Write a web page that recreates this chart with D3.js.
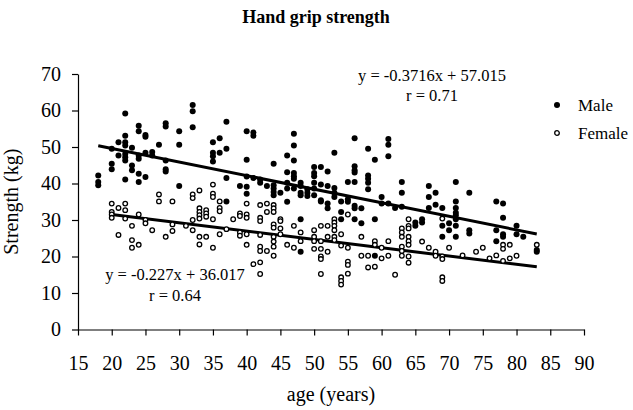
<!DOCTYPE html>
<html>
<head>
<meta charset="utf-8">
<script src="https://cdn.jsdelivr.net/npm/d3@7"></script>
<style>
  body { margin: 0; background: #fff; }
  text { font-family: "Liberation Serif", "Times New Roman", serif; fill: #000; }
  .axis text { font-size: 20px; }
  .axis path, .axis line { stroke: #000; stroke-width: 1.2; }
</style>
</head>
<body>
<div id="chart"></div>
<script>
// [age (years), grip strength (kg)]
var maleData = [
  [22,59.2],[24,55.8],[24,54.3],[25,53.3],[25,52.8],[28,56.5],[28,55.6],[30,54.3],
  [32,61.5],[32,59.8],[32,55.4],[30,50.6],[27,50.6],[22,53.1],[21,51.3],[22,51.3],
  [22,50.4],[23,49.8],[20,49.5],[21,47.7],[22,48.1],[22,47.2],[22,46.3],[23,44.9],
  [23,43.6],[24,47.7],[24,46.8],[25,48.4],[26,48.6],[26,47.7],[28,46.3],[28,43.9],
  [28,43.3],[20,45.4],[20,43.9],[18,42.2],[18,40.4],[18,39.5],[24,42.7],[24,40.4],
  [25,41.8],[22,41.1],[30,39.3],
  [37,56.9],[40,54.3],[41,54.0],[41,53.1],[35,51.3],[36,52.4],[37,49.5],[35,48.4],
  [35,47.5],[35,46.0],[36,48.4],[40,46.5],[44,45.4],[46,47.7],[47,53.6],[47,50.4],
  [47,46.3],[46,43.1],[47,42.9],[47,42.0],[47,41.3],[50,44.5],[51,44.5],[52,43.3],
  [50,42.9],[50,42.0],[37,41.5],[40,41.9],[41,41.5],[42,41.1],[42,40.2],[39,39.3],
  [40,39.1],[40,37.2],[44,39.5],[44,38.6],[44,37.7],[44,36.8],[45,37.5],[43,39.3],
  [46,40.2],[46,38.6],[47,38.6],[48,40.2],[48,39.3],[48,37.5],[48,36.8],[49,38.4],
  [49,37.5],[49,36.6],[50,40.2],[50,38.6],[50,36.8],[51,39.7],[52,39.3],[51,35.4],
  [52,34.5],[46,35.0],
  [56,52.4],[61,52.2],[61,50.6],[61,47.5],[58,49.5],[59,46.5],[53,48.4],
  [56,44.7],[56,43.6],[56,43.0],[58,42.2],[58,41.3],[58,40.2],[58,38.4],[55,40.4],
  [56,40.4],[63,40.4],[63,37.5],[67,39.3],[67,36.3],[68,37.5],[67,33.3],[53,38.8],
  [53,37.5],[53,36.3],[54,35.1],[55,35.7],[55,35.0],[56,33.9],[56,33.2],[57,33.2],
  [60,36.3],[60,34.5],[61,34.5],[62,33.3],[63,33.6],[68,34.2],
  [71,40.4],[73,37.5],[71,35.1],[71,33.3],[71,32.0],[69,33.3],[77,35.1],[78,34.5],
  [71,31.3],[71,30.2],[69,28.4],[70,29.1],[70,27.2],[69,25.4],[71,28.4],[71,25.4],
  [73,27.2],[73,26.3],[78,30.6],[77,27.2],[77,24.2],[78,26.1],[78,25.4],[80,28.4],
  [80,26.1],[81,25.4],[83,21.8],[83,21.3],
  [37,35.1],[48,30.2],[48,21.3],[51,35.1],[52,33.2],[54,32.2],[54,30.2],[56,30.2],
  [57,29.1],[59,30.2],[65,29.3],[65,28.4],[66,30.2],[66,29.3],[59,20.2]
];

var femaleData = [
  [20,34.5],[21,33.3],[22,34.5],[22,32.7],[20,32.2],[20,31.5],[20,30.6],[22,30.4],
  [24,31.5],[25,30.0],[25,29.1],[23,28.4],[26,27.2],[21,25.9],[23,24.5],[23,22.4],
  [24,23.2],[27,37.0],[27,35.1],[29,35.1],[29,28.8],[29,27.0],[28,25.4],[31,28.4],
  [32,37.0],[32,36.0],[32,30.0],[32,27.2],[33,33.2],[33,32.2],[33,31.3],[33,30.4],
  [34,32.7],[34,31.8],[34,30.9],[33,25.4],[33,23.3],[34,25.4],[33,38.1],
  [35,39.7],[35,37.2],[35,36.3],[36,35.1],[36,33.3],[36,32.4],[40,34.5],[39,31.8],
  [35,30.2],[38,30.2],[39,31.1],[40,31.5],[40,30.6],[42,34.1],[43,34.5],[43,32.2],
  [44,34.1],[44,33.2],[44,32.2],[42,30.6],[42,29.7],[45,30.2],[45,29.7],[44,28.8],
  [44,27.9],[47,28.4],[45,27.7],[35,22.4],[36,26.1],[37,27.5],[39,26.6],[39,25.7],
  [40,26.1],[40,23.2],[42,25.9],[42,22.7],[42,21.5],[43,21.5],[44,25.4],[44,24.1],
  [44,22.7],[44,20.2],[45,26.1],[46,23.2],[47,22.4],[48,24.2],[48,26.6],[41,17.9],
  [42,18.4],[42,15.2],[50,27.2],[50,25.4],[50,24.2],[50,22.1],[51,24.2],[51,22.1],
  [51,20.0],[51,19.3],[51,15.2],[52,28.4],[52,25.4],[52,21.3],
  [51,28.4],[53,30.2],[53,29.3],[53,28.4],[53,27.2],[55,31.5],[53,25.4],[53,24.5],
  [54,26.1],[54,23.0],[55,22.4],[57,25.4],[59,24.2],[59,23.2],[60,22.4],[61,24.2],
  [57,20.2],[58,20.2],[60,19.5],[61,20.2],[63,27.7],[63,26.6],[63,25.4],[64,30.2],
  [64,28.4],[64,27.7],[64,25.4],[64,24.2],[64,23.2],[63,22.7],[63,21.5],[63,20.2],
  [64,20.0],[64,18.3],[66,24.1],[67,22.4],[68,21.3],[68,20.2],[69,30.4],[70,22.4],
  [55,18.6],[55,17.7],[55,15.3],[54,14.3],[54,13.3],[54,12.3],[58,17.0],[59,17.2],
  [62,15.0],[69,14.3],[69,13.3],
  [69,20.0],[69,19.3],[72,20.3],[74,21.3],[75,22.4],[76,19.5],[77,20.3],[78,23.2],
  [78,22.1],[78,18.8],[79,23.2],[79,19.5],[80,20.2],[83,23.2]
];

// fitted lines as printed on the chart: [slope, intercept]
var maleFit = [-0.3716, 57.015];
var femaleFit = [-0.227, 36.017];
var xTicks = [15,20,25,30,35,40,45,50,55,60,65,70,75,80,85,90];
var yTicks = [0,10,20,30,40,50,60,70];

var width = 633, height = 410;
var margin = {left: 78, right: 49, top: 74, bottom: 80.5};

var svg = d3.select('#chart').append('svg')
  .attr('width', width)
  .attr('height', height);

var x = d3.scaleLinear().domain([15, 90]).range([margin.left, width - margin.right]);
var y = d3.scaleLinear().domain([0, 70]).range([height - margin.bottom, margin.top]);

// axes
svg.append('g')
  .attr('class', 'axis')
  .attr('transform', 'translate(0,' + y(0) + ')')
  .call(d3.axisBottom(x).tickValues(xTicks).tickSize(6).tickSizeOuter(0).tickPadding(20));
svg.append('g')
  .attr('class', 'axis')
  .attr('transform', 'translate(' + x(15) + ',0)')
  .call(d3.axisLeft(y).tickValues(yTicks).tickSize(6).tickSizeOuter(0).tickPadding(11));
svg.selectAll('.axis text').attr('font-family', null).attr('font-size', null);

// regression lines
function fitLine(fit, data) {
  var ext = d3.extent(data, function(d){ return d[0]; });
  return ext.map(function(a){ return [a, fit[0] * a + fit[1]]; });
}
var line = d3.line()
  .x(function(d){ return x(d[0]); })
  .y(function(d){ return y(d[1]); });

[[maleFit, maleData], [femaleFit, femaleData]].forEach(function(p){
  svg.append('path')
    .datum(fitLine(p[0], p[1]))
    .attr('d', line)
    .attr('fill', 'none')
    .attr('stroke', '#000')
    .attr('stroke-width', 3);
});

// points
svg.append('g').selectAll('circle')
  .data(femaleData)
  .enter().append('circle')
  .attr('cx', function(d){ return x(d[0]); })
  .attr('cy', function(d){ return y(d[1]); })
  .attr('r', 2.3)
  .attr('fill', '#fff')
  .attr('stroke', '#000')
  .attr('stroke-width', 1.3);

svg.append('g').selectAll('circle')
  .data(maleData)
  .enter().append('circle')
  .attr('cx', function(d){ return x(d[0]); })
  .attr('cy', function(d){ return y(d[1]); })
  .attr('r', 3)
  .attr('fill', '#000');

// titles
svg.append('text')
  .attr('x', 316).attr('y', 23)
  .attr('text-anchor', 'middle')
  .style('font-size', '18px')
  .style('font-weight', 'bold')
  .text('Hand grip strength');

svg.append('text')
  .attr('x', (x(15) + x(90)) / 2).attr('y', 401)
  .attr('text-anchor', 'middle')
  .style('font-size', '20px')
  .text('age (years)');

svg.append('text')
  .attr('transform', 'translate(18,' + y(35) + ') rotate(-90)')
  .attr('text-anchor', 'middle')
  .style('font-size', '20px')
  .text('Strength (kg)');

// equations
var eq = [
  {t: 'y = -0.3716x + 57.015', x: 432, y: 81},
  {t: 'r = 0.71', x: 432, y: 101},
  {t: 'y = -0.227x + 36.017', x: 175, y: 280},
  {t: 'r = 0.64', x: 175, y: 301}
];
svg.selectAll('.eq')
  .data(eq)
  .enter().append('text')
  .attr('class', 'eq')
  .attr('x', function(d){ return d.x; })
  .attr('y', function(d){ return d.y; })
  .attr('text-anchor', 'middle')
  .style('font-size', '16.5px')
  .text(function(d){ return d.t; });

// legend
var legend = svg.append('g').attr('transform', 'translate(557,105)');
legend.append('circle').attr('r', 3).attr('fill', '#000');
legend.append('text').attr('x', 21).attr('y', 6).style('font-size', '17px').text('Male');
legend.append('circle').attr('cy', 28).attr('r', 2.3)
  .attr('fill', '#fff').attr('stroke', '#000').attr('stroke-width', 1.3);
legend.append('text').attr('x', 21).attr('y', 34).style('font-size', '17px').text('Female');
</script>
</body>
</html>
